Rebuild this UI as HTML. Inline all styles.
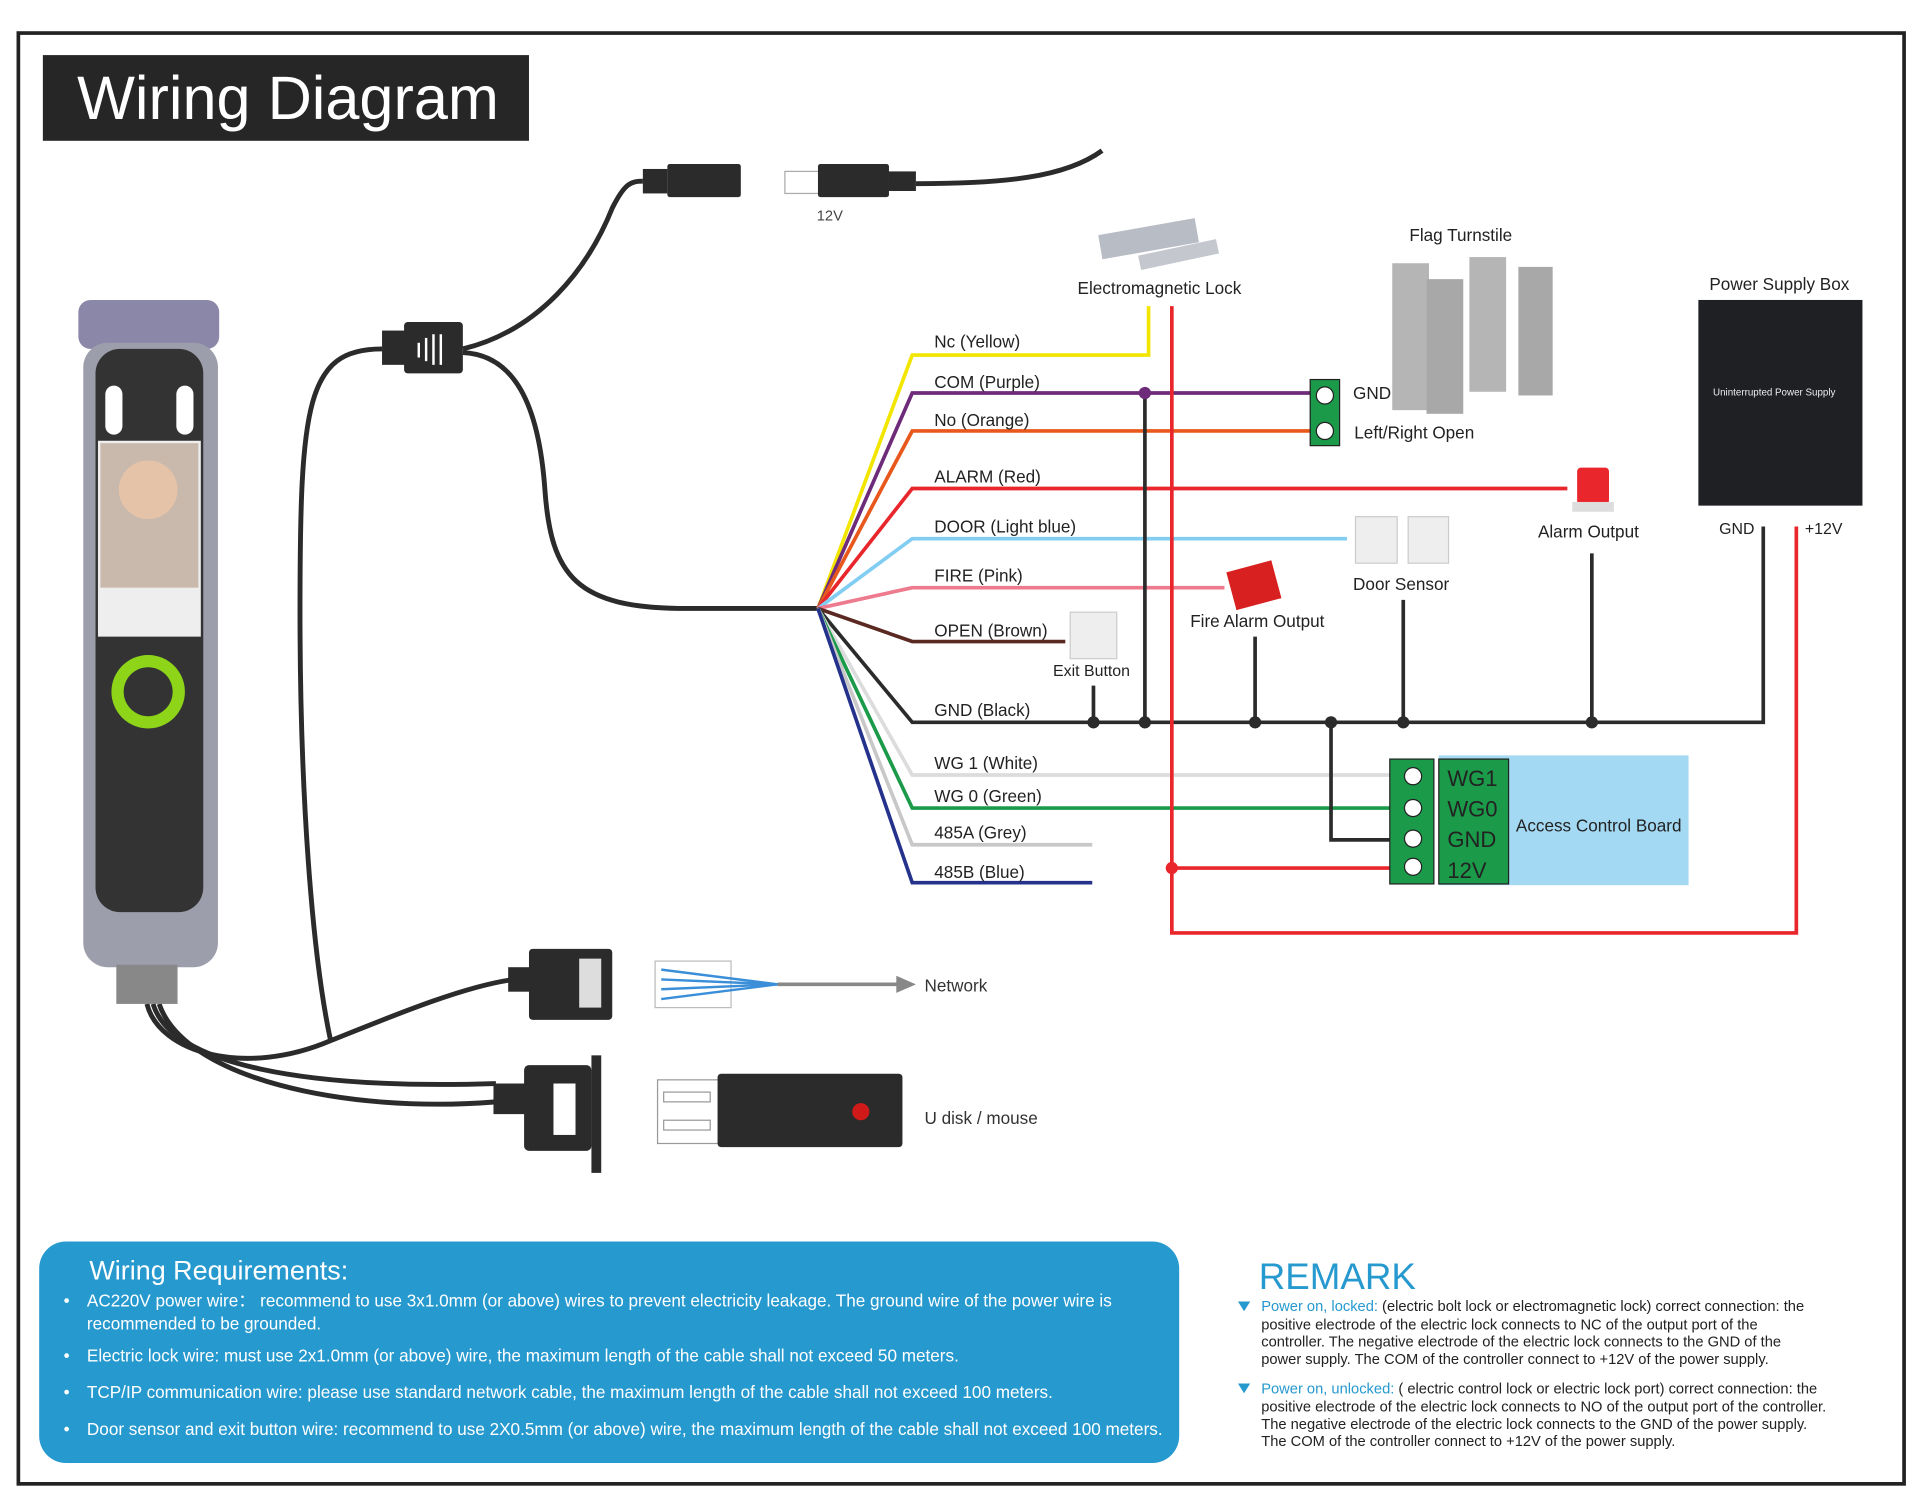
<!DOCTYPE html>
<html><head><meta charset="utf-8"><style>
html,body{margin:0;padding:0;background:#fff;}
svg{display:block;font-family:"Liberation Sans",sans-serif;}
</style></head><body>
<svg width="1920" height="1501" viewBox="0 0 1568 1226" preserveAspectRatio="none" xmlns="http://www.w3.org/2000/svg">
<rect x="0" y="0" width="1568" height="1226" fill="#fff"/>
<rect x="15" y="27" width="1540" height="1185" fill="none" stroke="#222" stroke-width="3"/>
<rect x="35" y="45" width="397" height="70" fill="#262626"/>
<text x="63" y="97" font-size="50" fill="#fff">Wiring Diagram</text>

<!-- cables -->
<g fill="none" stroke="#2b2b2b" stroke-width="4">
<path d="M378 285 C440 270 480 220 500 170 C510 150 515 148 525 148"/>
<path d="M748 150 C820 150 870 145 900 123"/>
<path d="M312 285 C250 285 245 330 245 500 C245 650 255 780 270 850"/>
<path d="M378 288 C420 290 440 330 445 400 C450 470 470 497 560 497 L668 497"/>
<path d="M120 820 C130 860 200 880 270 850 C320 830 380 805 420 800"/>
<path d="M125 820 C140 870 250 890 405 885"/>
<path d="M130 820 C150 880 280 910 405 900"/>
</g>
<!-- connectors -->
<rect x="525" y="138" width="20" height="20" fill="#2b2b2b"/>
<rect x="545" y="134" width="60" height="27" rx="2" fill="#2b2b2b"/>
<rect x="641" y="140" width="28" height="18" fill="#fff" stroke="#aaa"/>
<rect x="668" y="134" width="58" height="27" rx="2" fill="#2b2b2b"/>
<rect x="726" y="140" width="22" height="16" fill="#2b2b2b"/>
<text x="667" y="180" font-size="12" fill="#444">12V</text>
<rect x="312" y="270" width="20" height="28" fill="#2b2b2b"/>
<rect x="330" y="263" width="48" height="42" rx="3" fill="#2b2b2b"/>
<g stroke="#fff" stroke-width="2"><line x1="342" y1="280" x2="342" y2="292"/><line x1="348" y1="276" x2="348" y2="295"/><line x1="354" y1="273" x2="354" y2="298"/><line x1="360" y1="273" x2="360" y2="298"/></g>

<!-- device -->
<rect x="64" y="245" width="115" height="40" rx="10" fill="#8a87a8"/>
<rect x="68" y="280" width="110" height="510" rx="20" fill="#9d9eab"/>
<rect x="78" y="285" width="88" height="460" rx="20" fill="#333"/>
<rect x="80" y="360" width="84" height="160" fill="#eee"/>
<rect x="82" y="362" width="80" height="118" fill="#c9b8ac"/>
<circle cx="121" cy="400" r="24" fill="#e5c3a8"/>
<rect x="86" y="315" width="14" height="40" rx="7" fill="#fff"/>
<rect x="144" y="315" width="14" height="40" rx="7" fill="#fff"/>
<circle cx="121" cy="565" r="30" fill="#8ed51a"/>
<circle cx="121" cy="565" r="20" fill="#333"/>
<rect x="95" y="788" width="50" height="32" fill="#888"/>

<!-- ethernet & usb -->
<rect x="415" y="790" width="20" height="20" fill="#2b2b2b"/>
<rect x="432" y="775" width="68" height="58" rx="3" fill="#2b2b2b"/>
<rect x="473" y="783" width="18" height="40" fill="#ddd"/>
<rect x="535" y="785" width="62" height="38" fill="#fff" stroke="#bbb"/>
<g stroke="#3a8fd8" stroke-width="2"><line x1="540" y1="792" x2="635" y2="804"/><line x1="540" y1="800" x2="635" y2="804"/><line x1="540" y1="808" x2="635" y2="804"/><line x1="540" y1="816" x2="635" y2="804"/></g>
<line x1="635" y1="804" x2="735" y2="804" stroke="#888" stroke-width="3"/>
<polygon points="732,797 748,804 732,811" fill="#888"/>
<text x="755" y="810" font-size="14" fill="#333">Network</text>
<rect x="403" y="885" width="30" height="25" fill="#2b2b2b"/>
<rect x="428" y="870" width="55" height="70" rx="4" fill="#2b2b2b"/>
<rect x="483" y="862" width="8" height="96" fill="#2b2b2b"/>
<rect x="452" y="885" width="18" height="42" fill="#fff"/>
<rect x="537" y="882" width="52" height="52" fill="#fff" stroke="#999"/>
<rect x="542" y="892" width="38" height="8" fill="none" stroke="#999"/>
<rect x="542" y="915" width="38" height="8" fill="none" stroke="#999"/>
<rect x="586" y="877" width="151" height="60" rx="3" fill="#2b2b2b"/>
<circle cx="703" cy="908" r="7" fill="#d01a1a"/>
<text x="755" y="918" font-size="14" fill="#333">U disk / mouse</text>

<!-- wires -->
<g fill="none" stroke-width="3">
<path d="M668 497 L745 290 L938 290 L938 250" stroke="#f2e600"/>
<path d="M668 497 L745 321 L1070 321" stroke="#6e2b7a"/>
<path d="M668 497 L745 352 L1070 352" stroke="#e8581c"/>
<path d="M668 497 L745 399 L1280 399" stroke="#e8262c"/>
<path d="M668 497 L745 440 L1100 440" stroke="#82cdf2"/>
<path d="M668 497 L745 480 L1000 480" stroke="#ee7a8e"/>
<path d="M668 497 L745 524 L870 524" stroke="#5a2a22"/>
<path d="M668 497 L745 590 L1440 590 L1440 430" stroke="#2b2b2b"/>
<path d="M668 497 L745 633 L1135 633" stroke="#dcdcdc"/>
<path d="M668 497 L745 660 L1135 660" stroke="#1b9a4a"/>
<path d="M668 497 L745 690 L892 690" stroke="#c8c8c8"/>
<path d="M668 497 L745 721 L892 721" stroke="#25328c"/>
<path d="M957 250 L957 762 L1467 762 L1467 430" stroke="#e8262c"/>
<path d="M957 709 L1135 709" stroke="#e8262c"/>
<path d="M935 321 L935 590" stroke="#2b2b2b"/>
<path d="M1087 590 L1087 686 L1135 686" stroke="#2b2b2b"/>
<path d="M893 560 L893 590 M1025 520 L1025 590 M1146 490 L1146 590 M1300 452 L1300 590" stroke="#2b2b2b"/>
</g>
<g fill="#2b2b2b"><circle cx="893" cy="590" r="5"/><circle cx="935" cy="590" r="5"/><circle cx="1025" cy="590" r="5"/><circle cx="1087" cy="590" r="5"/><circle cx="1146" cy="590" r="5"/><circle cx="1300" cy="590" r="5"/></g>
<circle cx="935" cy="321" r="5" fill="#6e2b7a"/>
<circle cx="957" cy="709" r="5" fill="#e8262c"/>

<g font-size="14" fill="#222">
<text x="763" y="284">Nc  (Yellow)</text>
<text x="763" y="317">COM  (Purple)</text>
<text x="763" y="348">No  (Orange)</text>
<text x="763" y="394">ALARM  (Red)</text>
<text x="763" y="435">DOOR  (Light blue)</text>
<text x="763" y="475">FIRE  (Pink)</text>
<text x="763" y="520">OPEN  (Brown)</text>
<text x="763" y="585">GND  (Black)</text>
<text x="763" y="628">WG 1  (White)</text>
<text x="763" y="655">WG 0  (Green)</text>
<text x="763" y="685">485A  (Grey)</text>
<text x="763" y="717">485B  (Blue)</text>
</g>

<!-- devices right -->
<rect x="898" y="185" width="80" height="20" fill="#b8bcc4" transform="rotate(-10 938 195)"/>
<rect x="930" y="202" width="65" height="12" fill="#c4c8ce" transform="rotate(-12 962 208)"/>
<text x="880" y="240" font-size="14" fill="#222">Electromagnetic Lock</text>
<text x="1151" y="197" font-size="14" fill="#222">Flag Turnstile</text>
<rect x="1137" y="215" width="30" height="120" fill="#b5b5b5"/>
<rect x="1165" y="228" width="30" height="110" fill="#a8a8a8"/>
<rect x="1200" y="210" width="30" height="110" fill="#b5b5b5"/>
<rect x="1240" y="218" width="28" height="105" fill="#a8a8a8"/>
<rect x="1070" y="310" width="24" height="54" fill="#1b9a4a" stroke="#222"/>
<circle cx="1082" cy="323" r="7" fill="#fff" stroke="#222"/><circle cx="1082" cy="352" r="7" fill="#fff" stroke="#222"/>
<text x="1105" y="326" font-size="14" fill="#222">GND</text>
<text x="1106" y="358" font-size="14" fill="#222">Left/Right Open</text>
<text x="1396" y="237" font-size="14" fill="#222">Power Supply Box</text>
<rect x="1387" y="245" width="134" height="168" fill="#1e2024"/>
<text x="1399" y="323" font-size="8" fill="#eee">Uninterrupted Power Supply</text>
<text x="1404" y="436" font-size="13" fill="#222">GND</text>
<text x="1474" y="436" font-size="13" fill="#222">+12V</text>
<rect x="1288" y="382" width="26" height="30" rx="3" fill="#e8262c"/>
<rect x="1284" y="410" width="34" height="8" fill="#ddd"/>
<text x="1256" y="439" font-size="14" fill="#222">Alarm Output</text>
<rect x="1107" y="422" width="34" height="38" fill="#eee" stroke="#ccc"/>
<rect x="1150" y="422" width="33" height="38" fill="#eee" stroke="#ccc"/>
<text x="1105" y="482" font-size="14" fill="#222">Door Sensor</text>
<rect x="1005" y="462" width="38" height="32" fill="#d82020" transform="rotate(-15 1024 478)"/>
<text x="972" y="512" font-size="14" fill="#222">Fire Alarm Output</text>
<rect x="874" y="500" width="38" height="38" fill="#eee" stroke="#ccc"/>
<text x="860" y="552" font-size="13" fill="#222">Exit Button</text>

<rect x="1135" y="620" width="36" height="102" fill="#1b9a4a" stroke="#222"/>
<g fill="#fff" stroke="#222"><circle cx="1154" cy="634" r="7"/><circle cx="1154" cy="660" r="7"/><circle cx="1154" cy="685" r="7"/><circle cx="1154" cy="708" r="7"/></g>
<rect x="1175" y="617" width="204" height="106" fill="#a4d9f4"/>
<rect x="1175" y="620" width="57" height="102" fill="#1b9a4a" stroke="#222"/>
<g font-size="18" fill="#222"><text x="1182" y="642">WG1</text><text x="1182" y="667">WG0</text><text x="1182" y="692">GND</text><text x="1182" y="717">12V</text></g>
<text x="1238" y="679" font-size="14" fill="#222">Access Control Board</text>

<!-- bottom -->
<rect x="32" y="1014" width="931" height="181" rx="22" fill="#2699cf"/>
<text x="73" y="1045" font-size="22" fill="#fff">Wiring Requirements:</text>
<g font-size="14" fill="#fff">
<text x="52" y="1067">•</text><text x="71" y="1067">AC220V power wire： recommend to use 3x1.0mm (or above) wires to prevent electricity leakage. The ground wire of the power wire is</text>
<text x="71" y="1086">recommended to be grounded.</text>
<text x="52" y="1112">•</text><text x="71" y="1112">Electric lock wire: must use 2x1.0mm (or above) wire, the maximum length of the cable shall not exceed 50 meters.</text>
<text x="52" y="1142">•</text><text x="71" y="1142">TCP/IP communication wire: please use standard network cable, the maximum length of the cable shall not exceed 100 meters.</text>
<text x="52" y="1172">•</text><text x="71" y="1172">Door sensor and exit button wire: recommend to use 2X0.5mm (or above) wire, the maximum length of the cable shall not exceed 100 meters.</text>
</g>
<text x="1028" y="1053" font-size="30" fill="#2699cf">REMARK</text>
<g font-size="12" fill="#222">
<polygon points="1011,1063 1021,1063 1016,1071" fill="#2699cf"/>
<text x="1030" y="1071"><tspan fill="#2699cf">Power on, locked:</tspan> (electric bolt lock or electromagnetic lock) correct connection: the</text>
<text x="1030" y="1086">positive electrode of the electric lock connects to NC of the output port of the</text>
<text x="1030" y="1100">controller. The negative electrode of the electric lock connects to the GND of the</text>
<text x="1030" y="1114">power supply. The COM of the controller connect to +12V of the power supply.</text>
<polygon points="1011,1130 1021,1130 1016,1138" fill="#2699cf"/>
<text x="1030" y="1138"><tspan fill="#2699cf">Power on, unlocked:</tspan> ( electric control lock or electric lock port) correct connection: the</text>
<text x="1030" y="1153">positive electrode of the electric lock connects to NO of the output port of the controller.</text>
<text x="1030" y="1167">The negative electrode of the electric lock connects to the GND of the power supply.</text>
<text x="1030" y="1181">The COM of the controller connect to +12V of the power supply.</text>
</g>
</svg>
</body></html>
